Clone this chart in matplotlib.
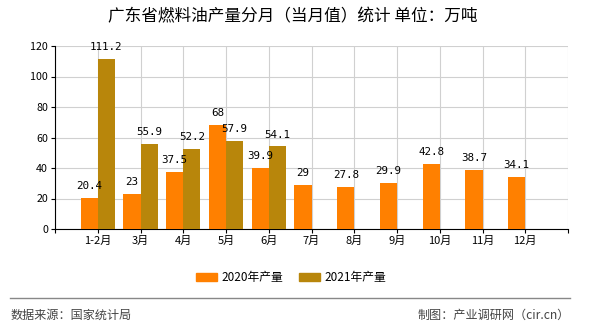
import matplotlib
matplotlib.use("Agg")
import matplotlib.pyplot as plt
import numpy as np
from matplotlib.patches import Patch

plt.rcParams['font.family'] = ['Noto Sans CJK SC', 'DejaVu Sans']

categories = ["1-2月", "3月", "4月", "5月", "6月", "7月", "8月", "9月", "10月", "11月", "12月"]
v2020 = [20.4, 23, 37.5, 68, 39.9, 29, 27.8, 29.9, 42.8, 38.7, 34.1]
v2021 = [111.2, 55.9, 52.2, 57.9, 54.1, None, None, None, None, None, None]
yticks = [0, 20, 40, 60, 80, 100, 120]

c2020 = "#FF8000"
c2021 = "#B8860B"

fig = plt.figure(figsize=(5.9, 3.3), dpi=100)
ax = fig.add_axes([55/590, 1-229/330, 513/590, 183/330])

x = np.arange(1, len(categories) + 1)
w = 0.4
ax.bar(x - w/2, v2020, width=w, color=c2020, zorder=3)
x21 = [xi for xi, v in zip(x, v2021) if v is not None]
y21 = [v for v in v2021 if v is not None]
ax.bar(np.array(x21) + w/2, y21, width=w, color=c2021, zorder=3)

lblfont = dict(family=['DejaVu Sans Mono'], fontsize=7.8, color='black')
for xi, v in zip(x, v2020):
    ax.annotate(f"{v:g}", (xi - w/2, v), xytext=(0, 5), textcoords='offset points',
                ha='center', va='bottom', zorder=5, **lblfont)
for xi, v in zip(x21, y21):
    ax.annotate(f"{v:g}", (xi + w/2, v), xytext=(0, 5), textcoords='offset points',
                ha='center', va='bottom', zorder=5, **lblfont)

ax.set_xlim(0, 12)
ax.set_ylim(0, 120)
ax.set_yticks(yticks)
ax.set_yticklabels([str(t) for t in yticks], fontsize=7.7)
ax.set_xticks(range(0, 13))
ax.set_xticklabels([""] + categories + [""], fontsize=8)
ax.grid(True, color='#d0d0d0', linewidth=0.8, zorder=0)
for s in ['top', 'right']:
    ax.spines[s].set_visible(False)
ax.spines['left'].set_color('black')
ax.spines['bottom'].set_color('black')
ax.tick_params(axis='both', length=3, width=0.8, pad=2)

fig.text(293/590, 1-17/330, "广东省燃料油产量分月（当月值）统计 单位：万吨", ha='center', va='center', fontsize=12)

handles = [Patch(color=c2020, label="2020年产量"), Patch(color=c2021, label="2021年产量")]
fig.legend(handles=handles, loc='center', bbox_to_anchor=(291/590, 1-277.5/330), ncol=2, frameon=False,
           fontsize=8.5, handlelength=1.8, handleheight=0.7, columnspacing=1.3, handletextpad=0.35)

fig.add_artist(plt.Line2D([10/590, 570/590], [1-297.5/330, 1-297.5/330], color='#888888', linewidth=1))
fig.text(11/590, 1-315/330, "数据来源：国家统计局", ha='left', va='center', fontsize=8.7, color='#444444')
fig.text(570/590, 1-315/330, "制图：产业调研网（cir.cn）", ha='right', va='center', fontsize=8.7, color='#444444')

fig.savefig("out.png", dpi=100)
